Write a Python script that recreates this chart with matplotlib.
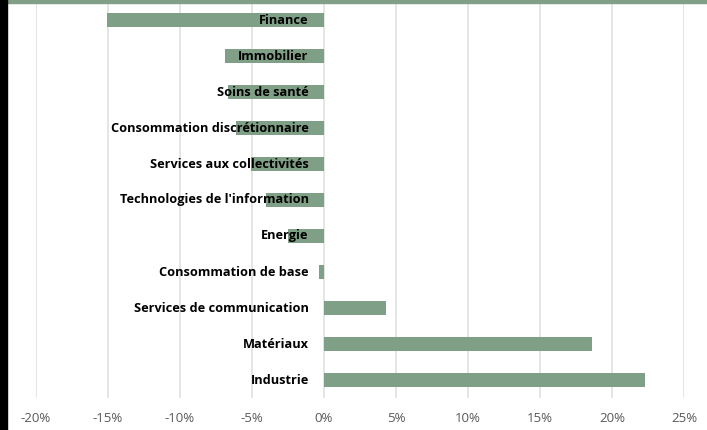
import numpy as np
import matplotlib.pyplot as plt
from matplotlib.patches import Rectangle

secteurs = ['Finance', 'Immobilier', 'Soins de santé', 'Consommation discrétionnaire',
            'Services aux collectivités', "Technologies de l'information", 'Energie',
            'Consommation de base', 'Services de communication', 'Matériaux', 'Industrie']
perf = [-15.1, -6.9, -6.7, -6.1, -5.1, -4.0, -2.5, -0.35, 4.3, 18.6, 22.3]
ticks = [-20, -15, -10, -5, 0, 5, 10, 15, 20, 25]

vert = '#7f9f86'

W, H = 707, 430
fig = plt.figure(figsize=(W / 100, H / 100), dpi=100)
ax = fig.add_axes([36 / W, 1 - 398 / H, (684 - 36) / W, 396 / H])

y = np.arange(len(secteurs))
ax.barh(y, perf, height=0.37, color=vert, zorder=2)
ax.set_ylim(len(secteurs) - 0.5, -0.5)
ax.set_xlim(-20, 25)
ax.set_xticks(ticks)
ax.set_xticklabels([f'{t}%' for t in ticks], fontsize=9.5, color='#595959',
                   family='Open Sans')
ax.tick_params(axis='x', length=0, pad=10)
ax.set_yticks([])
ax.grid(axis='x', color='#e3e3e3', linewidth=1.3, zorder=0)
for s in ax.spines.values():
    s.set_visible(False)

# etiquettes collées à l'axe zéro, par-dessus les barres
for yi, nom in zip(y, secteurs):
    ax.annotate(nom, (0, yi), xytext=(-11, 0), textcoords='offset points',
                ha='right', va='center', fontsize=9.2, fontweight='bold',
                family='Open Sans', color='black', zorder=5)

# bords de la capture
fig.patches.append(Rectangle((0, 1 - 2.5 / H), 1, 2.5 / H, transform=fig.transFigure,
                             color=vert, zorder=10))
fig.patches.append(Rectangle((0, 0), 7 / W, 1, transform=fig.transFigure,
                             color='black', zorder=10))

fig.savefig('out.png', dpi=100)
